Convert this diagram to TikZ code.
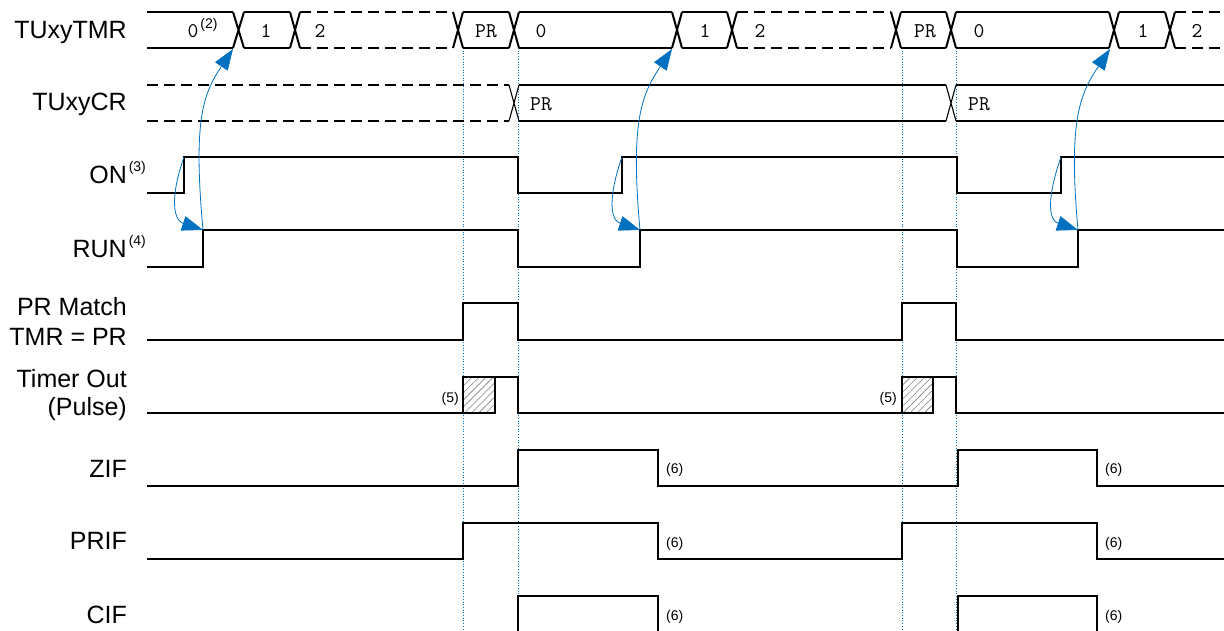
\documentclass[tikz,border=0pt]{standalone}
\usepackage{fontspec}
\setmainfont{Liberation Sans}
\usetikzlibrary{arrows.meta,patterns.meta}

\definecolor{markblue}{RGB}{0,112,192}
\newcommand{\fnote}[2][12pt]{\raisebox{#1}{\fontsize{14}{14}\rmfamily\hspace{2pt}(#2)}}

\begin{document}
\begin{tikzpicture}[x=1pt, y=-1pt,
  signame/.style={font=\fontsize{25}{30}\selectfont, anchor=base east, inner sep=0},
  busval/.style={font=\fontsize{21}{21}\ttfamily, anchor=base, inner sep=0},
  note/.style={font=\fontsize{14}{14}\selectfont, inner sep=0},
  bus/.style={line width=2pt},
  thin_sig/.style={line width=1.1pt},
  thick_sig/.style={line width=2pt},
  gap_bus/.style={dash pattern=on 11pt off 6pt},
  edge_mark/.style={draw=markblue, line width=0.7pt, dotted},
  cause/.style={draw=markblue, line width=0.8pt, -{Triangle[length=21pt,width=15pt]}}]

\useasboundingbox (0,0) rectangle (1224,630);
\clip (0,0) rectangle (1224,630);

\draw [edge_mark] (463,48) -- (463,630);
\draw [edge_mark] (518,48) -- (518,630);
\draw [edge_mark] (902,48) -- (902,630);
\draw [edge_mark] (956,48) -- (956,630);

\node [signame] (tmr_lbl) at (127,38) {TUxyTMR};
\node [signame] (cr_lbl) at (127,110) {TUxyCR};
\node [signame] (on_lbl) at (127,183) {ON\rlap{\fnote{3}}};
\node [signame] (run_lbl) at (127,257) {RUN\rlap{\fnote{4}}};
\node [signame] (prm_lbl) at (127,315) {PR Match};
\node [signame] (prm_lbl2) at (127,345) {TMR = PR};
\node [signame] (out_lbl) at (127,387) {Timer Out};
\node [signame] (out_lbl2) at (127,415) {(Pulse)};
\node [signame] (zif_lbl) at (127,477) {ZIF};
\node [signame] (prif_lbl) at (127,549) {PRIF};
\node [signame] (cif_lbl) at (127,623) {CIF};

\draw [bus] (147,12) -- (233,12) (147,48) -- (233,48);
\draw [bus] (233,12) -- (244,48) (233,48) -- (244,12);
\draw [bus] (244,12) -- (290,12) (244,48) -- (290,48);
\draw [bus] (290,12) -- (300,48) (290,48) -- (300,12);
\draw [bus, gap_bus] (300,12) -- (453,12) (300,48) -- (453,48);
\draw [bus] (453,12) -- (463,48) (453,48) -- (463,12);
\draw [bus] (463,12) -- (509,12) (463,48) -- (509,48);
\draw [bus] (509,12) -- (519,48) (509,48) -- (519,12);
\draw [bus] (519,12) -- (672,12) (519,48) -- (672,48);
\draw [bus] (672,12) -- (682,48) (672,48) -- (682,12);
\draw [bus] (682,12) -- (727,12) (682,48) -- (727,48);
\draw [bus] (727,12) -- (737,48) (727,48) -- (737,12);
\draw [bus, gap_bus] (737,12) -- (891,12) (737,48) -- (891,48);
\draw [bus] (891,12) -- (901,48) (891,48) -- (901,12);
\draw [bus] (901,12) -- (946,12) (901,48) -- (946,48);
\draw [bus] (946,12) -- (956,48) (946,48) -- (956,12);
\draw [bus] (956,12) -- (1109,12) (956,48) -- (1109,48);
\draw [bus] (1109,12) -- (1119,48) (1109,48) -- (1119,12);
\draw [bus] (1119,12) -- (1165,12) (1119,48) -- (1165,48);
\draw [bus] (1165,12) -- (1175,48) (1165,48) -- (1175,12);
\draw [bus, gap_bus] (1175,12) -- (1224,12) (1175,48) -- (1224,48);

\node [busval] (tmr_v1) at (193,37) {0\rlap{\fnote[9pt]{2}}};
\node [busval] (tmr_v2) at (266,37) {1};
\node [busval] (tmr_v3) at (320,37) {2};
\node [busval] (tmr_v4) at (486,37) {PR};
\node [busval] (tmr_v5) at (541,37) {0};
\node [busval] (tmr_v6) at (705,37) {1};
\node [busval] (tmr_v7) at (760,37) {2};
\node [busval] (tmr_v8) at (925,37) {PR};
\node [busval] (tmr_v9) at (979,37) {0};
\node [busval] (tmr_v10) at (1143,37) {1};
\node [busval] (tmr_v11) at (1197,37) {2};

\draw [thin_sig, gap_bus] (147,85) -- (509,85) (147,121) -- (509,121);
\draw [thin_sig] (509,85) -- (519,121) (509,121) -- (519,85);
\draw [thin_sig] (519,85) -- (946,85) (519,121) -- (946,121);
\draw [thin_sig] (946,85) -- (956,121) (946,121) -- (956,85);
\draw [thin_sig] (956,85) -- (1224,85) (956,121) -- (1224,121);

\node [busval] (cr_v1) at (541,110) {PR};
\node [busval] (cr_v2) at (979,110) {PR};

\draw [thick_sig] (147,193) -- (184,193) -- (184,157) -- (518,157) -- (518,193) -- (622,193) -- (622,157) -- (957,157) -- (957,193) -- (1061,193) -- (1061,157) -- (1224,157);
\draw [thick_sig] (147,267) -- (203,267) -- (203,230) -- (518,230) -- (518,267) -- (640,267) -- (640,230) -- (957,230) -- (957,267) -- (1078,267) -- (1078,230) -- (1224,230);

\draw [thin_sig] (147,340) -- (463,340) -- (463,303) -- (518,303) -- (518,340) -- (902,340) -- (902,303) -- (956,303) -- (956,340) -- (1224,340);

\draw [thin_sig] (147,413) -- (463,413);
\draw [thin_sig, pattern={Lines[angle=45,distance=5pt,line width=0.6pt]}, pattern color=gray] (463,377) rectangle (495,413);
\draw [thin_sig] (495,377) -- (518,377) -- (518,413) -- (902,413);
\draw [thin_sig, pattern={Lines[angle=45,distance=5pt,line width=0.6pt]}, pattern color=gray] (902,377) rectangle (933,413);
\draw [thin_sig] (933,377) -- (956,377) -- (956,413) -- (1224,413);
\node [note, anchor=base east] (out_n1) at (459,402) {(5)};
\node [note, anchor=base east] (out_n2) at (897,402) {(5)};

\draw [thin_sig] (147,486) -- (518,486) -- (518,450) -- (658,450) -- (658,486) -- (958,486) -- (958,450) -- (1097,450) -- (1097,486) -- (1224,486);
\draw [thick_sig] (147,559) -- (463,559) -- (463,523) -- (658,523) -- (658,559) -- (902,559) -- (902,523) -- (1097,523) -- (1097,559) -- (1224,559);
\draw [thin_sig] (147,634) -- (518,634) -- (518,596) -- (658,596) -- (658,634) -- (958,634) -- (958,596) -- (1097,596) -- (1097,634) -- (1224,634);

\node [note, anchor=base west] (zif_n1) at (666,473) {(6)};
\node [note, anchor=base west] (prif_n1) at (666,547) {(6)};
\node [note, anchor=base west] (cif_n1) at (666,620) {(6)};
\node [note, anchor=base west] (zif_n2) at (1105,473) {(6)};
\node [note, anchor=base west] (prif_n2) at (1105,547) {(6)};
\node [note, anchor=base west] (cif_n2) at (1105,620) {(6)};

\coordinate (on_up1) at (184,157);
\coordinate (run_up1) at (203,230);
\coordinate (tmr_x1) at (233,49);
\coordinate (on_up2) at (622,157);
\coordinate (run_up2) at (640,230);
\coordinate (tmr_x2) at (672,49);
\coordinate (on_up3) at (1061,157);
\coordinate (run_up3) at (1078,230);
\coordinate (tmr_x3) at (1110,49);

\draw [cause] (on_up1) .. controls +(-14,40) and +(-30,-10) .. (run_up1);
\draw [cause] (run_up1) .. controls +(-10,-110) and +(-30,45) .. (tmr_x1);
\draw [cause] (on_up2) .. controls +(-14,40) and +(-30,-10) .. (run_up2);
\draw [cause] (run_up2) .. controls +(-10,-110) and +(-30,45) .. (tmr_x2);
\draw [cause] (on_up3) .. controls +(-14,40) and +(-30,-10) .. (run_up3);
\draw [cause] (run_up3) .. controls +(-10,-110) and +(-30,45) .. (tmr_x3);

\end{tikzpicture}
\end{document}
